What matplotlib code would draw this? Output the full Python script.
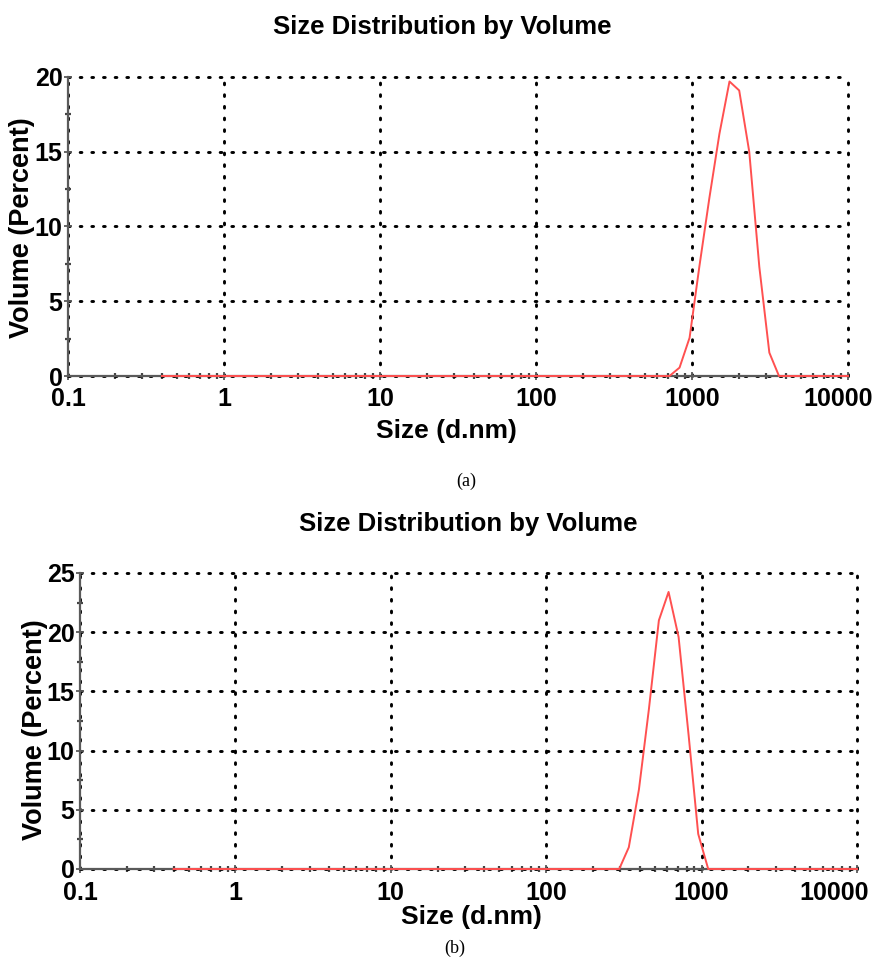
import matplotlib
matplotlib.use("Agg")
import matplotlib.pyplot as plt
from matplotlib.ticker import LogLocator, NullFormatter, MultipleLocator
from matplotlib.transforms import ScaledTranslation

# data --------------------------------------->
# panel (a)
size_a = [0.4, 717, 832, 965, 1114, 1292, 1499, 1739, 2007, 2328, 2701, 3132, 3611, 10000]
vol_a = [0, 0, 0.56, 2.56, 7.3, 11.9, 16.2, 19.7, 19.1, 15.0, 7.3, 1.56, 0, 0]
# panel (b)
size_b = [0.4, 295, 340, 395, 458, 531, 613, 711, 825, 951, 1103, 10000]
vol_b = [0, 0, 1.83, 6.7, 13.5, 21.0, 23.4, 19.6, 11.3, 2.96, 0, 0]

x_ticks = [0.1, 1, 10, 100, 1000, 10000]
x_labels = ["0.1", "1", "10", "100", "1000", "10000"]

plt.rcParams['font.family'] = ['Liberation Sans', 'DejaVu Sans']
plt.rcParams['font.weight'] = 'bold'

W, H = 875, 965
fig = plt.figure(figsize=(W / 100, H / 100), dpi=100)


def px_box(left, right, top, bottom):
    return [left / W, 1 - bottom / H, (right - left) / W, (bottom - top) / H]


def draw_panel(box, sizes, vols, ymax, title_xy, xlabel_xy, ylabel_xy, tag_xy, tag,
               last_shift, xpad):
    ax = fig.add_axes(box)
    ax.plot(sizes, vols, color='#ff5050', linewidth=1.4, zorder=4, clip_on=False)
    ax.set_xscale('log')
    ax.set_xlim(0.1, 10000)
    ax.set_ylim(0, ymax)
    ax.set_xticks(x_ticks)
    ax.set_xticklabels(x_labels)
    ax.xaxis.set_minor_locator(LogLocator(base=10, subs=range(2, 10)))
    ax.xaxis.set_minor_formatter(NullFormatter())
    ax.yaxis.set_major_locator(MultipleLocator(5))
    ax.yaxis.set_minor_locator(MultipleLocator(2.5))

    ax.spines['top'].set_visible(False)
    ax.spines['right'].set_visible(False)
    for s in ['left', 'bottom']:
        ax.spines[s].set_color('#5a5a5a')
        ax.spines[s].set_linewidth(1.6)
        ax.spines[s].set_zorder(3)

    ax.grid(True, which='major', color='k', linestyle=(0, (0.6, 3.4)),
            linewidth=2.1, dash_capstyle='round')
    for gl in ax.get_xgridlines() + ax.get_ygridlines():
        gl.set_clip_on(False)

    ax.tick_params(which='major', direction='inout', length=6, width=1.3,
                   color='#5a5a5a', labelsize=18, pad=1)
    ax.tick_params(which='minor', direction='inout', length=4, width=1.6,
                   color='#444444')
    ax.tick_params(axis='x', which='major', pad=xpad)
    for lab in ax.get_xticklabels() + ax.get_yticklabels():
        lab.set_fontweight('bold')
    # last x label sits a bit left of its tick, as in the original
    last = ax.get_xticklabels()[-1]
    last.set_transform(last.get_transform() + ScaledTranslation(last_shift / 100, 0, fig.dpi_scale_trans))

    fig.text(title_xy[0] / W, 1 - title_xy[1] / H, "Size Distribution by Volume",
             ha='center', va='center', fontsize=18.5, fontweight='bold')
    fig.text(xlabel_xy[0] / W, 1 - xlabel_xy[1] / H, "Size (d.nm)",
             ha='center', va='center', fontsize=19, fontweight='bold')
    fig.text(ylabel_xy[0] / W, 1 - ylabel_xy[1] / H, "Volume (Percent)",
             ha='center', va='center', fontsize=19.5, fontweight='bold', rotation=90)
    fig.text(tag_xy[0] / W, 1 - tag_xy[1] / H, tag, ha='center', va='center',
             fontsize=13, fontweight='normal', family=['Liberation Serif'])
    return ax


draw_panel(px_box(68, 848, 77, 376), size_a, vol_a, 20,
           (442, 27), (446, 431), (22, 228), (466, 481), "(a)", -10, 5)
draw_panel(px_box(80, 857, 573, 869), size_b, vol_b, 25,
           (468, 524), (471, 917), (35, 730), (455, 948), "(b)", -23, 6)

fig.savefig("out.png", dpi=100)
